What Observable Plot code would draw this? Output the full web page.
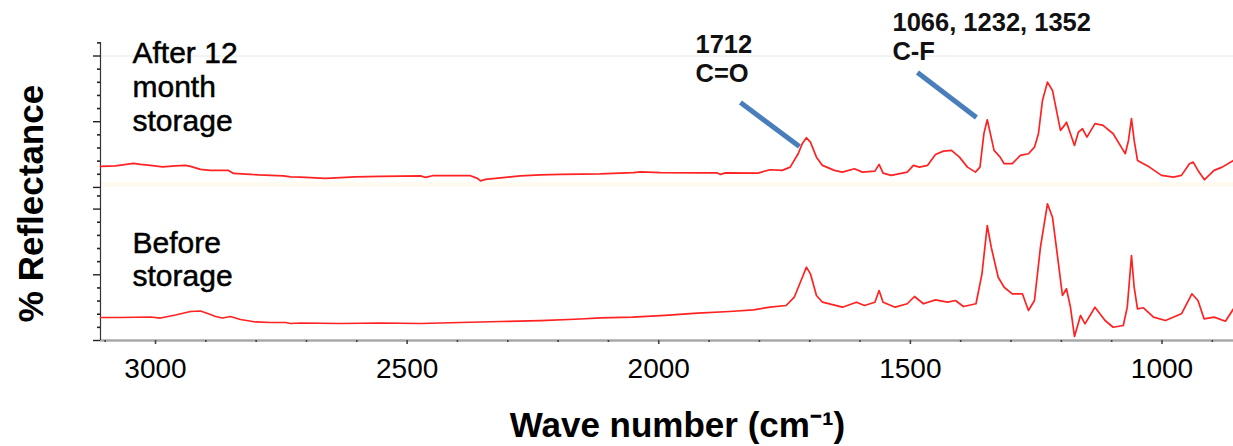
<!DOCTYPE html>
<html><head><meta charset="utf-8">
<script src="https://cdn.jsdelivr.net/npm/d3@7"></script>
<script src="https://cdn.jsdelivr.net/npm/@observablehq/plot@0.6"></script>
<style>body{margin:0;background:#fff}</style>
</head><body><div id="chart"></div>
<script>
// ---- data ----
const xDomain = [3109.3, 857.9];           // wave number, cm-1 (reversed axis)
const upperOffset = 23.3;                  // stacking offset of the upper spectrum
const upperWavenumber = [3109.3,3079.5,3043.7,3029.8,3009.9,2986.1,2960.3,2940.4,2930.5,2910.6,2890.7,2854.9,2845.0,2811.2,2795.3,2771.5,2745.7,2731.7,2711.9,2662.2,2642.3,2602.6,2552.9,2473.4,2463.5,2449.6,2374.1,2360.2,2354.2,2344.3,2324.4,2304.6,2274.8,2235.0,2195.3,2115.8,2050.2,2036.3,1996.6,1917.1,1883.3,1877.4,1867.4,1802.8,1778.8,1754.7,1738.8,1722.7,1714.6,1706.5,1698.6,1686.6,1674.7,1650.9,1635.0,1611.1,1595.2,1570.4,1562.2,1554.2,1538.2,1506.2,1494.0,1481.9,1466.0,1450.1,1434.2,1418.3,1402.4,1386.6,1370.7,1361.7,1353.8,1347.2,1341.7,1333.7,1321.6,1313.6,1297.5,1281.4,1265.3,1253.4,1245.5,1237.5,1227.6,1217.6,1209.7,1201.7,1193.8,1189.8,1181.9,1173.9,1166.0,1158.0,1149.1,1133.2,1117.1,1097.0,1080.9,1073.0,1066.6,1060.6,1055.3,1048.7,1024.9,1001.0,977.2,961.3,945.4,938.0,928.5,915.6,896.5,880.4,857.9];
const upperReflectance = [3.20,3.27,3.65,3.50,3.35,3.12,3.27,3.35,3.20,2.74,2.59,2.59,2.13,1.98,1.90,1.83,1.75,1.60,1.57,1.37,1.45,1.60,1.68,1.75,1.52,1.78,1.78,1.37,0.99,1.22,1.37,1.52,1.75,1.90,1.98,2.05,2.24,2.36,2.24,2.21,2.21,1.98,2.21,2.18,2.69,2.59,3.09,5.17,6.70,7.56,6.89,4.61,3.35,2.59,2.33,2.85,2.33,2.48,3.50,2.18,1.83,2.33,3.35,3.09,3.35,5.02,5.52,5.63,4.61,3.09,2.33,3.09,8.22,10.30,8.42,5.63,4.61,3.61,3.61,4.87,5.13,6.13,8.17,13.24,16.03,14.76,11.72,8.68,9.44,9.94,8.17,6.39,8.42,8.93,7.66,9.70,9.44,8.17,6.13,5.13,7.15,10.46,7.15,4.11,3.09,1.83,1.57,1.83,3.61,3.85,2.59,1.17,2.59,3.09,4.11];
const lowerWavenumber = [3109.3,3069.5,3009.9,2990.1,2960.3,2930.5,2910.6,2890.7,2880.8,2866.9,2851.0,2831.1,2801.3,2771.5,2741.7,2731.7,2711.9,2632.4,2552.9,2473.4,2393.9,2314.5,2235.0,2155.5,2115.8,2052.2,1987.4,1923.0,1859.4,1811.8,1778.8,1746.8,1730.7,1714.6,1706.5,1698.6,1686.6,1674.7,1635.0,1607.1,1591.2,1570.4,1562.2,1554.2,1530.2,1506.2,1491.8,1474.0,1450.1,1426.3,1410.4,1394.5,1369.6,1357.7,1347.2,1339.3,1325.5,1313.6,1297.5,1277.4,1265.3,1253.4,1241.5,1227.6,1217.6,1205.7,1197.8,1189.8,1181.9,1173.9,1161.9,1153.0,1133.2,1113.1,1097.0,1076.9,1069.0,1060.6,1055.3,1048.7,1036.8,1016.9,993.1,961.3,940.6,928.5,916.4,896.5,873.9,857.9];
const lowerReflectance = [3.50,3.50,3.58,3.42,3.88,4.41,4.49,3.96,3.65,3.42,3.65,3.20,2.82,2.74,2.74,2.59,2.66,2.59,2.66,2.59,2.74,2.89,3.04,3.27,3.45,3.55,3.81,4.16,4.41,4.67,5.07,5.33,6.59,9.63,11.16,10.15,6.85,5.83,5.07,5.83,5.33,5.83,7.61,5.83,5.07,5.59,6.70,5.59,6.19,5.83,6.09,5.17,5.59,10.15,17.50,14.20,9.63,8.11,7.11,7.11,4.57,6.09,14.20,20.81,18.77,11.67,6.85,7.87,5.07,0.61,3.81,2.54,5.07,3.04,2.02,2.28,5.07,12.94,8.11,4.82,4.98,3.55,3.04,4.06,7.11,6.09,3.30,3.55,2.94,4.82];

const xMajorTicks = [3000, 2500, 2000, 1500, 1000];
const xMinorTicks = [3100, 2900, 2800, 2700, 2600, 2400, 2300, 2200, 2100, 1900, 1800, 1700, 1600, 1400, 1300, 1200, 1100, 900];
const yMajorTicks = [0, 10, 20, 23.3, 33.3, 43.3];
const yMinorTicks = [2, 4, 6, 8, 12, 14, 16, 18, 22, 25.3, 27.3, 29.3, 31.3, 35.3, 37.3, 39.3, 41.3, 45.3];
const yAxisTop = 45.36;

const panelLabels = ["After 12\nmonth\nstorage", "Before\nstorage"];
const panelLabelX = [3045.7, 3045.7];
const panelLabelY = [31.96, 8.22];

const peakLabels = ["1712\nC=O", "1066, 1232, 1352\nC-F"];
const peakLabelX = [1927.0, 1535.6];
const peakLabelY = [39.28, 42.62];
const leaderX1 = [1837.6, 1485.9];
const leaderY1 = [36.23, 40.79];
const leaderX2 = [1720.4, 1368.7];
const leaderY2 = [29.53, 33.94];

const yTitle = "% Reflectance";
const xTitle = "Wave number (cm\u207B\u00B9)";

// ---- tables ----
const upper = upperWavenumber.map((w, i) => ({w, r: upperReflectance[i]}));
const lower = lowerWavenumber.map((w, i) => ({w, r: lowerReflectance[i]}));
const panels = panelLabels.map((t, i) => ({t, x: panelLabelX[i], y: panelLabelY[i]}));
const peaks = peakLabels.map((t, i) => ({t, x: peakLabelX[i], y: peakLabelY[i]}));
const leaders = leaderX1.map((x1, i) => ({x1, y1: leaderY1[i], x2: leaderX2[i], y2: leaderY2[i]}));

const font = "'Liberation Sans', Arial, Helvetica, sans-serif";

const chart = Plot.plot({
  width: 1233,
  height: 446,
  marginLeft: 100,
  marginRight: 0,
  marginTop: 0,
  marginBottom: 106,
  style: {fontFamily: font, background: "white", color: "black"},
  x: {domain: xDomain, axis: null},
  y: {domain: [0, 51.75]},
  marks: [
    Plot.rect([0], {x1: xDomain[0], x2: xDomain[1], y1: upperOffset, y2: upperOffset + 0.76, fill: "#fefaf0"}),
    Plot.ruleY([43.3], {stroke: "#e6e6e6", strokeWidth: 1}),
    Plot.ruleY([0], {stroke: "#a8a8a8", strokeWidth: 2.5}),
    Plot.ruleX([xDomain[0]], {y1: 0, y2: yAxisTop, stroke: "#333", strokeWidth: 1.2}),
    Plot.axisY(yMinorTicks, {anchor: "left", tickSize: 3, fill: "none", stroke: "#222", strokeWidth: 1.6, label: null}),
    Plot.axisY(yMajorTicks, {anchor: "left", tickSize: 7, fill: "none", stroke: "#222", strokeWidth: 1.4, label: null}),
    Plot.axisX(xMinorTicks, {anchor: "bottom", tickSize: 2, fill: "none", stroke: "#444", strokeWidth: 1.6, label: null}),
    Plot.axisX(xMajorTicks, {anchor: "bottom", tickSize: 4, tickPadding: 14, fontSize: 28, fill: "black", stroke: "#444", strokeWidth: 1.6, label: null, tickFormat: d => String(d)}),
    Plot.line(lower, {x: "w", y: "r", stroke: "#ff2222", strokeWidth: 1.7, strokeLinejoin: "round"}),
    Plot.line(upper, {x: "w", y: d => d.r + upperOffset, stroke: "#ff2222", strokeWidth: 1.7, strokeLinejoin: "round"}),
    Plot.link(leaders, {x1: "x1", y1: "y1", x2: "x2", y2: "y2", stroke: "#4a7ebb", strokeWidth: 5}),
    Plot.text(peaks, {x: "x", y: "y", text: "t", fontSize: 25.5, fontWeight: "bold", lineHeight: 1.15, textAnchor: "start", lineAnchor: "bottom", fill: "#111"}),
    Plot.text(panels, {x: "x", y: "y", text: "t", fontSize: 30, lineHeight: 1.12, textAnchor: "start", lineAnchor: "bottom", fill: "black", stroke: "black", strokeWidth: 0.5}),
    Plot.text([yTitle], {x: 3224.5, y: 20.85, text: d => d, rotate: -90, fontSize: 35, fontWeight: "bold", lineAnchor: "bottom", fill: "black"}),
    Plot.text([xTitle], {x: 1962.8, y: -14.76, text: d => d, fontSize: 35, fontWeight: "bold", lineAnchor: "bottom", fill: "black"})
  ]
});
document.getElementById("chart").append(chart);
</script>
</body></html>
